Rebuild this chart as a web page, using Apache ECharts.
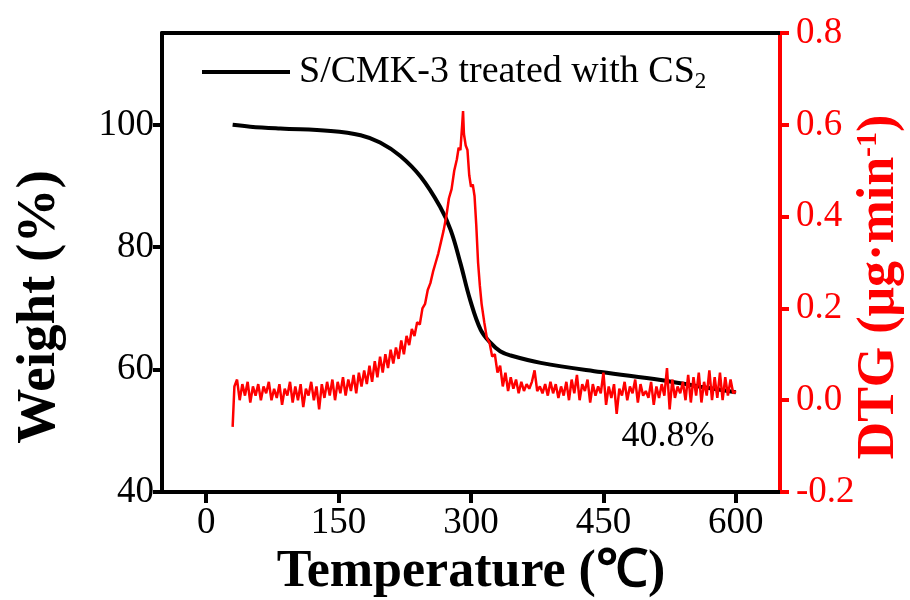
<!DOCTYPE html>
<html><head><meta charset="utf-8">
<script src="https://cdn.jsdelivr.net/npm/echarts@6/dist/echarts.min.js"></script>
<style>html,body{margin:0;padding:0;background:#fff}#c{width:910px;height:600px}</style>
</head><body><div id="c"></div>
<script>
const tgT = [30, 50, 84, 141, 175, 197, 220, 243, 265, 277, 288, 299, 311, 322, 333, 345, 379, 447, 515, 560, 600];
const tgV = [100, 99.7, 99.4, 99.0, 98.3, 97.1, 94.9, 91.5, 86.6, 82.8, 77.4, 71.4, 66.5, 64.4, 63.0, 62.3, 61.1, 59.6, 58.3, 57.2, 56.3];

const dtgT = [30,32,35,38,41,44,47,50,53,56,59,62,65,68,71,74,77,80,83,86,89,92,95,98,101,104,107,110,113,116,119,122,125,128,131,134,137,140,143,146,149,152,155,158,161,164,167,170,173,176,179,182,185,188,191,194,197,200,203,206,209,212,215,218,221,224,227,230,233,236,239,242,245,248,251,254,257,260,263,266,269,272,275,278,281,284,286,288,290,291,292,294,296,298,300,302,304,306,308,310,312,315,318,321,324,327,330,333,336,339,342,345,348,351,354,357,360,363,366,369,372,375,378,381,384,387,390,393,396,399,402,405,408,411,414,417,420,423,426,429,432,435,438,441,444,447,450,453,456,459,462,465,468,471,474,477,480,483,486,489,492,495,498,501,504,507,510,513,516,519,522,525,528,531,534,537,540,543,546,549,552,555,558,561,564,567,570,573,576,579,582,585,588,591,594,597,600];
const dtgV = [-0.058,0.03,0.045,0.0,0.035,0.01,0.04,-0.005,0.03,0.01,0.035,0.0,0.03,0.015,0.04,0.0,0.025,0.005,0.035,-0.01,0.025,0.01,0.04,-0.005,0.03,0.0,0.035,-0.015,0.025,0.01,0.04,0.0,0.03,-0.02,0.035,0.005,0.04,0.01,0.045,0.0,0.04,0.015,0.05,0.01,0.045,0.02,0.055,0.015,0.06,0.03,0.065,0.035,0.075,0.04,0.085,0.05,0.095,0.06,0.1,0.07,0.11,0.08,0.115,0.09,0.13,0.1,0.14,0.12,0.155,0.14,0.17,0.165,0.2,0.21,0.24,0.255,0.28,0.3,0.32,0.345,0.37,0.4,0.44,0.46,0.5,0.525,0.55,0.545,0.6,0.63,0.58,0.555,0.545,0.49,0.465,0.47,0.445,0.38,0.3,0.25,0.21,0.17,0.135,0.125,0.095,0.1,0.06,0.075,0.03,0.06,0.02,0.05,0.025,0.045,0.015,0.04,0.02,0.035,0.025,0.04,0.065,0.02,0.03,0.015,0.035,0.01,0.04,0.015,0.035,0.005,0.03,0.01,0.04,0.0,0.045,0.015,0.055,0.0,0.035,0.02,0.045,-0.005,0.035,0.01,0.03,0.015,0.06,-0.01,0.03,0.005,0.035,-0.03,0.025,0.01,0.04,0.0,0.03,0.015,0.045,-0.005,0.035,0.01,0.02,0.005,0.04,-0.01,0.03,0.005,0.035,0.01,0.07,-0.02,0.045,0.005,0.03,0.015,0.04,0.0,0.055,-0.005,0.05,0.01,0.06,-0.005,0.04,0.01,0.065,0.0,0.05,0.005,0.06,0.0,0.05,0.01,0.045,0.015,0.02];

const xTicks = [0, 150, 300, 450, 600];
const yLeftTicks = [40, 60, 80, 100];
const seriesName = 'S/CMK-3 treated with CS2';

const tgData = tgT.map((t, i) => [t, tgV[i]]);
const dtgData = dtgT.map((t, i) => [t, dtgV[i]]);

const FONT = '"Liberation Serif", "Times New Roman", serif';
const chart = echarts.init(document.getElementById('c'), null, {renderer: 'canvas'});
chart.setOption({
  backgroundColor: '#fff',
  animation: false,
  grid: {left: 162, right: 130, top: 33, bottom: 108, containLabel: false},
  legend: {
    data: [seriesName],
    left: 197, top: 48,
    icon: 'rect', itemWidth: 88, itemHeight: 4,
    formatter: () => '{a|S/CMK-3 treated with CS}{s|2}',
    textStyle: {
      rich: {
        a: {fontFamily: FONT, fontSize: 38, color: '#000', padding: [0, 0, 0, 4]},
        s: {fontFamily: FONT, fontSize: 23, color: '#000', verticalAlign: 'bottom', padding: [20, 0, 0, 0]}
      }
    }
  },
  xAxis: [{
    type: 'value', min: -50, max: 650, position: 'bottom',
    axisLine: {show: true, onZero: false, lineStyle: {color: '#000', width: 4}},
    axisTick: {show: true, inside: false, length: 11, lineStyle: {color: '#000', width: 4}, customValues: xTicks},
    axisLabel: {customValues: xTicks, color: '#000', fontFamily: FONT, fontSize: 37, margin: 13},
    splitLine: {show: false}
  }, {
    type: 'value', min: -50, max: 650, position: 'top',
    axisLine: {show: true, onZero: false, lineStyle: {color: '#000', width: 4}},
    axisTick: {show: false}, axisLabel: {show: false}, splitLine: {show: false}
  }],
  yAxis: [{
    type: 'value', min: 40, max: 115, position: 'left',
    axisLine: {show: true, onZero: false, lineStyle: {color: '#000', width: 4}},
    axisTick: {show: true, length: 9, lineStyle: {color: '#000', width: 4}, customValues: yLeftTicks},
    axisLabel: {customValues: yLeftTicks, color: '#000', fontFamily: FONT, fontSize: 37, margin: 8},
    splitLine: {show: false}
  }, {
    type: 'value', min: -0.2, max: 0.8, interval: 0.2, position: 'right',
    axisLine: {show: true, onZero: false, lineStyle: {color: '#ff0000', width: 4}},
    axisTick: {show: true, length: 9, lineStyle: {color: '#ff0000', width: 4}},
    axisLabel: {color: '#ff0000', fontFamily: FONT, fontSize: 37, margin: 16,
      formatter: v => v.toFixed(1)},
    splitLine: {show: false}
  }],
  graphic: [
    {type: 'text', x: 471, y: 573, style: {text: 'Temperature (℃)', font: 'bold 52px ' + FONT, fill: '#000', textAlign: 'center', textVerticalAlign: 'middle'}},
    {type: 'text', x: 40, y: 307, rotation: Math.PI / 2, style: {text: 'Weight (%)', font: 'bold 55px ' + FONT, fill: '#000', textAlign: 'center', textVerticalAlign: 'middle'}},
    {type: 'text', x: 880, y: 287, rotation: Math.PI / 2, style: {
      text: '{t|DTG (μg·min}{s|-1}{t|)}', textAlign: 'center', textVerticalAlign: 'middle',
      rich: {
        t: {fontFamily: FONT, fontWeight: 'bold', fontSize: 52, fill: '#ff0000', color: '#ff0000'},
        s: {fontFamily: FONT, fontWeight: 'bold', fontSize: 30, fill: '#ff0000', color: '#ff0000', verticalAlign: 'top', padding: [0, 0, 24, 0]}
      }}},
    {type: 'text', x: 668, y: 437, style: {text: '40.8%', font: '36px ' + FONT, fill: '#000', textAlign: 'center', textVerticalAlign: 'middle'}}
  ],
  series: [{
    name: seriesName, type: 'line', data: tgData, xAxisIndex: 0, yAxisIndex: 0,
    smooth: 0.4, showSymbol: false, symbol: 'none',
    lineStyle: {color: '#000', width: 4}, itemStyle: {color: '#000'}, z: 2
  }, {
    name: 'DTG', type: 'line', data: dtgData, xAxisIndex: 0, yAxisIndex: 1,
    showSymbol: false, symbol: 'none',
    lineStyle: {color: '#ff0000', width: 2.5}, itemStyle: {color: '#ff0000'}, z: 3
  }]
});
</script></body></html>
